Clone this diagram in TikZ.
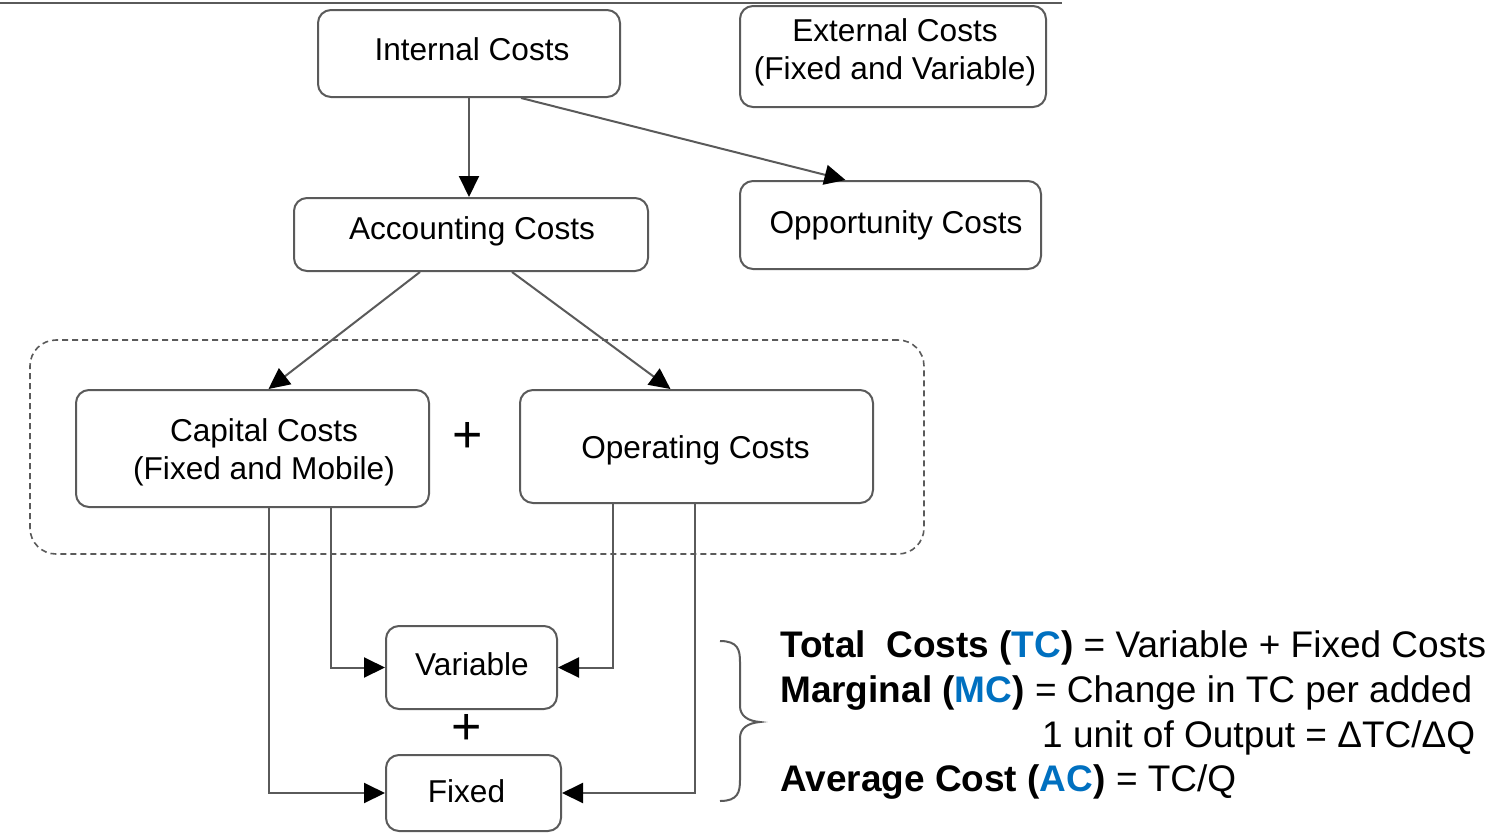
\documentclass[tikz,border=0pt]{standalone}
\usepackage{fontspec}
\setmainfont{Liberation Sans}
\usetikzlibrary{arrows.meta}
\definecolor{boxline}{RGB}{90,90,90}
\definecolor{tcblue}{RGB}{0,112,192}
\tikzset{
  box/.style={draw=boxline, line width=2pt, rounded corners=13pt, fill=white, inner sep=0pt},
  boxtext/.style={align=center, font=\fontsize{31.6}{38}\selectfont, inner sep=0pt},
  arr/.style={draw=boxline, line width=2pt, -{Triangle[length=21pt,width=20pt,color=black]}},
  dashbox/.style={draw=boxline, line width=1.6pt, dash pattern=on 6pt off 4pt, rounded corners=26pt},
  plus/.style={font=\fontsize{52}{52}\selectfont, inner sep=0pt},
  eqline/.style={anchor=base west, inner sep=0pt, font=\fontsize{37}{45}\selectfont},
}
\begin{document}
\begin{tikzpicture}[x=1pt,y=-1pt]
\useasboundingbox (0,0) rectangle (1505,833);
\draw[line width=1.5pt, boxline] (0,3) -- (1062,3);
\node[dashbox, minimum width=894pt, minimum height=214pt] (frame) at (477,447) {};
\node[box, minimum width=302pt, minimum height=87pt] (int) at (469,53.5) {};
\node[boxtext] (intt) at (472,49) {Internal Costs};
\node[box, minimum width=306pt, minimum height=101pt] (ext) at (893,56.5) {};
\node[boxtext] (extt) at (895,52) {External Costs\\(Fixed and Variable)};
\node[box, minimum width=354pt, minimum height=73pt] (acc) at (471,234.5) {};
\node[boxtext] (acct) at (472,231) {Accounting Costs};
\node[box, minimum width=301pt, minimum height=88pt] (opp) at (890.5,225) {};
\node[boxtext] (oppt) at (896,225) {Opportunity Costs};
\node[box, minimum width=353pt, minimum height=117pt] (cap) at (252.5,448.5) {};
\node[boxtext] (capt) at (264,452) {Capital Costs\\(Fixed and Mobile)};
\node[box, minimum width=353pt, minimum height=113pt] (op) at (696.5,446.5) {};
\node[boxtext] (opt) at (695.5,450) {Operating Costs};
\node[box, minimum width=171pt, minimum height=83pt] (var) at (471.5,667.5) {};
\node[boxtext] (vart) at (472,664) {Variable};
\node[box, minimum width=175pt, minimum height=76pt] (fix) at (473.5,793) {};
\node[boxtext] (fixt) at (466.5,791) {Fixed};
\node[plus] (p1) at (468,437) {+};
\node[plus] (p2) at (467,729) {+};
\draw[arr] (int.south) -- (int.south |- acc.north);
\draw[arr] ([xshift=-100pt]int.south east) -- ([xshift=-45pt]opp.north);
\draw[arr] ([xshift=-51pt]acc.south) -- ([xshift=16pt]cap.north);
\draw[arr] ([xshift=41pt]acc.south) -- ([xshift=-26pt]op.north);
\draw[arr] ([xshift=78pt]cap.south) |- (var.west);
\draw[arr] ([xshift=-84pt]op.south) |- (var.east);
\draw[arr] ([xshift=16pt]cap.south) |- (fix.west);
\draw[arr] ([xshift=-2pt]op.south) |- (fix.east);
\coordinate (bt) at (720,641);
\coordinate (bb) at (720,801);
\draw[boxline, line width=2pt] (bt) .. controls (738,641) and (740,650) .. (740,662)
  -- (740,706) .. controls (740,716) and (748,721) .. (760,722)
  .. controls (748,723) and (740,728) .. (740,738)
  -- (740,780) .. controls (740,792) and (738,801) .. (bb);
\node[eqline] (l1) at (780,657) {\textbf{Total~ Costs (\textcolor{tcblue}{TC})} = Variable + Fixed Costs};
\node[eqline] (l2) at (780,702) {\textbf{Marginal (\textcolor{tcblue}{MC})} = Change in TC per added};
\node[eqline] (l3) at (1042,747) {1 unit of Output = ΔTC/ΔQ};
\node[eqline] (l4) at (780,791) {\textbf{Average Cost (\textcolor{tcblue}{AC})} = TC/Q};
\end{tikzpicture}
\end{document}
